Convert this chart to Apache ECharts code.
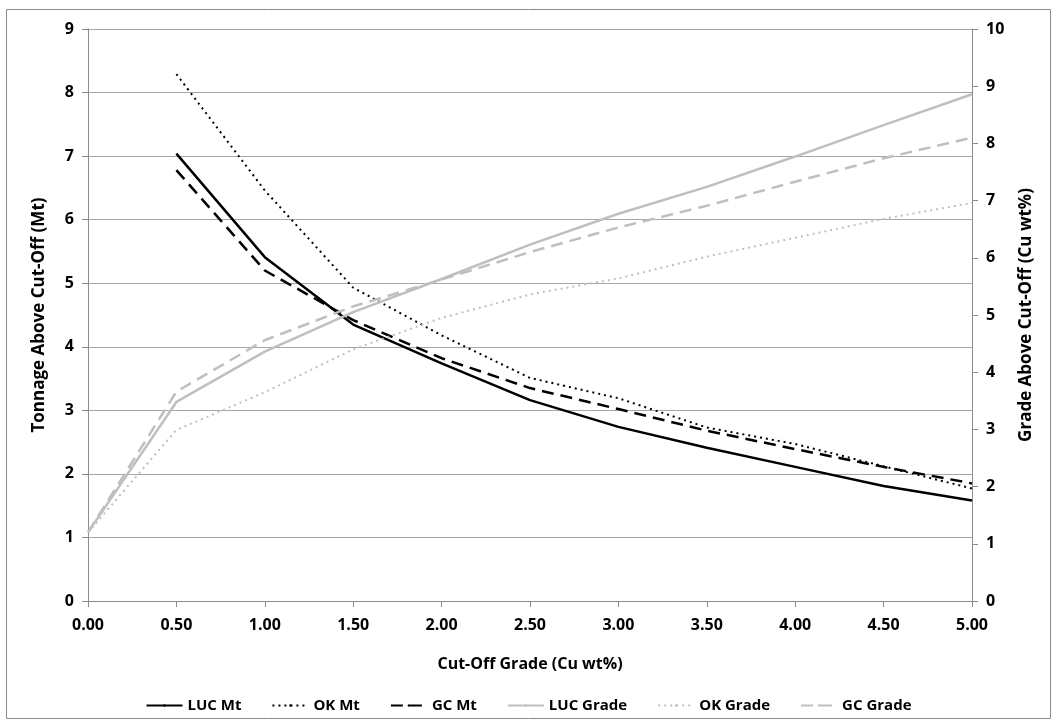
<!DOCTYPE html>
<html lang="en">
<head>
    <meta charset="UTF-8">
    <title>Grade-Tonnage</title>
    <script src="https://cdn.jsdelivr.net/npm/echarts@6/dist/echarts.min.js"></script>
    <style>
        body { margin: 0; background: #fff; }
    </style>
</head>
<body>
<div id="main" style="width: 1057px;height:727px;"></div>
<script type="text/javascript">
    // cut-off grade (Cu wt%)
    var cutoff = [0, 0.5, 1.0, 1.5, 2.0, 2.5, 3.0, 3.5, 4.0, 4.5, 5.0];

    // tonnage above cut-off (Mt), left axis
    var lucMt = [null, 7.04, 5.41, 4.35, 3.74, 3.16, 2.74, 2.41, 2.11, 1.81, 1.58];
    var okMt  = [null, 8.29, 6.46, 4.93, 4.18, 3.51, 3.19, 2.73, 2.47, 2.12, 1.77];
    var gcMt  = [null, 6.78, 5.20, 4.42, 3.82, 3.35, 3.02, 2.68, 2.39, 2.11, 1.85];

    // grade above cut-off (Cu wt%), right axis
    var lucGrade = [1.2, 3.48, 4.36, 5.05, 5.63, 6.23, 6.77, 7.24, 7.77, 8.32, 8.86];
    var okGrade  = [1.2, 2.99, 3.65, 4.40, 4.95, 5.36, 5.64, 6.02, 6.35, 6.68, 6.96];
    var gcGrade  = [1.2, 3.66, 4.56, 5.15, 5.62, 6.10, 6.53, 6.91, 7.33, 7.74, 8.10];

    function pairs(ys) {
        var out = [];
        for (var i = 0; i < cutoff.length; i++) {
            out.push([cutoff[i], ys[i]]);
        }
        return out;
    }

    var black = '#000000';
    var grey = '#bfbfbf';
    var font = '"Open Sans", "Noto Sans", sans-serif';

    function mkLine(name, ys, axis, color, type, width) {
        return {
            name: name,
            type: 'line',
            yAxisIndex: axis,
            data: pairs(ys),
            symbol: 'none',
            showSymbol: false,
            connectNulls: false,
            animation: false,
            lineStyle: { color: color, type: type, width: width, cap: 'butt' },
            itemStyle: { color: color }
        };
    }

    var chartDom = document.getElementById('main');
    var myChart = echarts.init(chartDom);
    var option;

    option = {
        backgroundColor: '#fff',
        animation: false,
        textStyle: { fontFamily: font },
        graphic: [{
            type: 'rect',
            shape: { x: 6.5, y: 9.5, width: 1044, height: 709 },
            style: { fill: 'none', stroke: '#8c8c8c', lineWidth: 1 },
            silent: true
        }],
        grid: {
            left: 88,
            right: 85,
            top: 29,
            bottom: 126
        },
        legend: {
            bottom: 9,
            left: 'center',
            itemWidth: 36,
            itemHeight: 3,
            itemGap: 30,
            textStyle: { color: '#000', fontWeight: 'bold', fontSize: 15, fontFamily: font },
            data: ['LUC Mt', 'OK Mt', 'GC Mt', 'LUC Grade', 'OK Grade', 'GC Grade']
        },
        xAxis: {
            type: 'value',
            min: 0,
            max: 5,
            interval: 0.5,
            name: 'Cut-Off Grade (Cu wt%)',
            nameLocation: 'middle',
            nameGap: 55,
            nameTextStyle: { color: '#000', fontWeight: 'bold', fontSize: 16, fontFamily: font },
            axisLine: { show: true, lineStyle: { color: '#8c8c8c', width: 1 } },
            axisTick: { show: true, length: 6, lineStyle: { color: '#8c8c8c' } },
            axisLabel: {
                color: '#000', fontWeight: 'bold', fontSize: 16, margin: 16,
                formatter: function (v) { return v.toFixed(2); }
            },
            splitLine: { show: false }
        },
        yAxis: [{
            type: 'value',
            min: 0,
            max: 9,
            interval: 1,
            position: 'left',
            name: 'Tonnage Above Cut-Off (Mt)',
            nameLocation: 'middle',
            nameGap: 40,
            nameRotate: 90,
            nameTextStyle: { color: '#000', fontWeight: 'bold', fontSize: 17, fontFamily: font },
            axisLine: { show: true, lineStyle: { color: '#8c8c8c', width: 1 } },
            axisTick: { show: true, length: 6, lineStyle: { color: '#8c8c8c' } },
            axisLabel: { color: '#000', fontWeight: 'bold', fontSize: 16, margin: 14 },
            splitLine: { show: true, lineStyle: { color: '#a6a6a6', width: 1 } }
        }, {
            type: 'value',
            min: 0,
            max: 10,
            interval: 1,
            position: 'right',
            name: 'Grade Above Cut-Off (Cu wt%)',
            nameLocation: 'middle',
            nameGap: 46,
            nameRotate: 90,
            nameTextStyle: { color: '#000', fontWeight: 'bold', fontSize: 17, fontFamily: font },
            axisLine: { show: true, lineStyle: { color: '#8c8c8c', width: 1 } },
            axisTick: { show: true, length: 6, lineStyle: { color: '#8c8c8c' } },
            axisLabel: { color: '#000', fontWeight: 'bold', fontSize: 16, margin: 14 },
            splitLine: { show: false }
        }],
        series: [
            mkLine('LUC Mt', lucMt, 0, black, 'solid', 2.5),
            mkLine('OK Mt', okMt, 0, black, [2, 4], 2),
            mkLine('GC Mt', gcMt, 0, black, [12, 7], 2.5),
            mkLine('LUC Grade', lucGrade, 1, grey, 'solid', 2.5),
            mkLine('OK Grade', okGrade, 1, grey, [2, 4], 2),
            mkLine('GC Grade', gcGrade, 1, grey, [12, 7], 2.5)
        ]
    };

    option && myChart.setOption(option);
</script>
</body>
</html>
